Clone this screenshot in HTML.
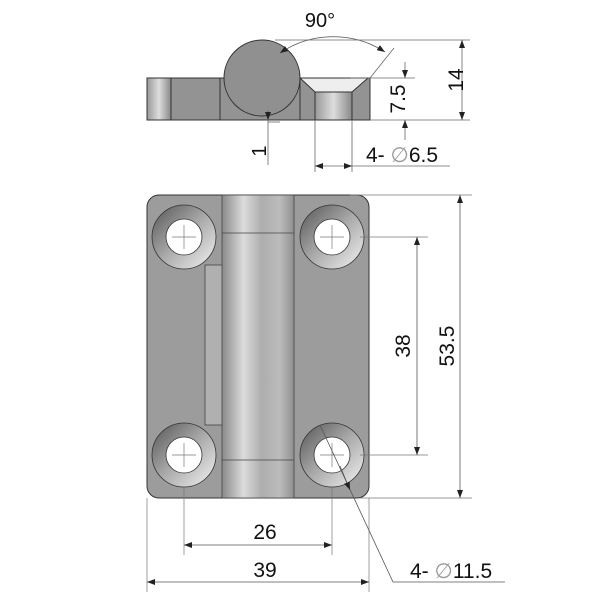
<!DOCTYPE html>
<html><head><style>
html,body{margin:0;padding:0;background:#fff;}
svg{display:block;}
text{font-family:"Liberation Sans",sans-serif;fill:#111;}
</style></head><body>
<svg width="600" height="600" viewBox="0 0 600 600" xmlns="http://www.w3.org/2000/svg">
<defs>
<linearGradient id="bar" x1="0" x2="1" y1="0" y2="0">
<stop offset="0" stop-color="#8a8a8a"/><stop offset="0.3" stop-color="#dcdcdc"/><stop offset="0.55" stop-color="#adadad"/><stop offset="0.8" stop-color="#bcbcbc"/><stop offset="1" stop-color="#909090"/>
</linearGradient>
<linearGradient id="cs" x1="0" y1="0" x2="1" y2="1">
<stop offset="0" stop-color="#555"/><stop offset="0.5" stop-color="#aaa"/><stop offset="1" stop-color="#f4f4f4"/>
</linearGradient>
<linearGradient id="tab" x1="0" x2="1"><stop offset="0" stop-color="#999"/><stop offset="0.5" stop-color="#ddd"/><stop offset="1" stop-color="#888"/></linearGradient>
<marker id="a" markerWidth="8" markerHeight="6" refX="8" refY="3" orient="auto-start-reverse" markerUnits="userSpaceOnUse"><path d="M0,0 L8,3 L0,6z" fill="#222"/></marker>
</defs>

<g stroke="#333" stroke-width="1">
<rect x="147" y="78" width="73" height="42" fill="#939393"/>
<rect x="147" y="78" width="24" height="42" fill="url(#tab)"/>
<path d="M220,78 L300,78 L300,120 L220,120z" fill="#939393"/>
<path d="M300,78 L370,78 L370,120 L300,120z" fill="#939393"/>
<path d="M300,78 L368,78 L352,92 L315,92z" fill="#eee"/>
<rect x="315" y="92" width="37" height="28" fill="url(#tab)"/>
<circle cx="262" cy="78" r="38" fill="#909090"/>
</g>
<g stroke="#666" stroke-width="0.8" fill="none">
<line x1="275" y1="40" x2="470" y2="40"/>
<line x1="350" y1="78" x2="415" y2="78"/>
<line x1="370" y1="120" x2="470" y2="120"/>
<line x1="462" y1="40" x2="462" y2="120" marker-start="url(#a)" marker-end="url(#a)"/>
<line x1="405" y1="62" x2="405" y2="78" marker-end="url(#a)"/>
<line x1="405" y1="120" x2="405" y2="140" marker-start="url(#a)"/>
<line x1="315" y1="120" x2="315" y2="172"/>
<line x1="352" y1="120" x2="352" y2="172"/>
<line x1="315" y1="166" x2="352" y2="166" marker-start="url(#a)" marker-end="url(#a)"/>
<line x1="352" y1="166" x2="450" y2="166"/>
<line x1="268" y1="110" x2="268" y2="120" marker-end="url(#a)"/>
<line x1="268" y1="120" x2="268" y2="165"/>
<path d="M280,53 A95,95 0 0 1 385,52" marker-start="url(#a)" marker-end="url(#a)"/>
<line x1="370" y1="78" x2="394" y2="48"/>
<line x1="268" y1="122" x2="280" y2="122"/>
</g>
<text x="320" y="27" font-size="20" text-anchor="middle">90°</text>
<text font-size="21" transform="translate(463,80) rotate(-90)" text-anchor="middle">14</text>
<text font-size="21" transform="translate(405,99) rotate(-90)" text-anchor="middle">7.5</text>
<text font-size="20" transform="translate(266,151) rotate(-90)" text-anchor="middle">1</text>
<text x="366" y="162" font-size="21">4- <tspan fill="#999">∅</tspan>6.5</text>

<rect x="147" y="195" width="222" height="303" rx="12" fill="#9c9c9c" stroke="#333"/>
<rect x="205" y="265" width="20" height="160" fill="#b0b0b0" stroke="#444" stroke-width="0.8"/>
<rect x="222" y="195" width="72" height="303" fill="url(#bar)" stroke="#444" stroke-width="0.8"/>
<line x1="222" y1="233" x2="294" y2="233" stroke="#444" stroke-width="0.8"/>
<line x1="222" y1="460" x2="294" y2="460" stroke="#444" stroke-width="0.8"/>
<g stroke="#333" stroke-width="0.8">
<circle cx="184" cy="237" r="32" fill="url(#cs)"/><circle cx="184" cy="237" r="18" fill="#fff"/>
<circle cx="332" cy="237" r="32" fill="url(#cs)"/><circle cx="332" cy="237" r="18" fill="#fff"/>
<circle cx="184" cy="455" r="32" fill="url(#cs)"/><circle cx="184" cy="455" r="18" fill="#fff"/>
<circle cx="332" cy="455" r="32" fill="url(#cs)"/><circle cx="332" cy="455" r="18" fill="#fff"/>
</g>
<g stroke="#777" stroke-width="0.7" fill="none">
<line x1="172" y1="237" x2="196" y2="237"/><line x1="184" y1="225" x2="184" y2="249"/>
<line x1="320" y1="237" x2="344" y2="237"/><line x1="332" y1="225" x2="332" y2="249"/>
<line x1="172" y1="455" x2="196" y2="455"/><line x1="184" y1="443" x2="184" y2="467"/>
<line x1="320" y1="455" x2="344" y2="455"/><line x1="332" y1="443" x2="332" y2="467"/>
<line x1="350" y1="195" x2="472" y2="195"/>
<line x1="360" y1="498" x2="472" y2="498"/>
<line x1="360" y1="237" x2="428" y2="237"/>
<line x1="360" y1="455" x2="428" y2="455"/>
<line x1="184" y1="488" x2="184" y2="555"/>
<line x1="332" y1="488" x2="332" y2="555"/>
<line x1="147" y1="498" x2="147" y2="592"/>
<line x1="369" y1="498" x2="369" y2="592"/>
</g>
<g stroke="#555" stroke-width="0.8" fill="none">
<line x1="460" y1="195" x2="460" y2="498" marker-start="url(#a)" marker-end="url(#a)"/>
<line x1="417" y1="237" x2="417" y2="455" marker-start="url(#a)" marker-end="url(#a)"/>
<line x1="184" y1="545" x2="332" y2="545" marker-start="url(#a)" marker-end="url(#a)"/>
<line x1="147" y1="582" x2="369" y2="582" marker-start="url(#a)" marker-end="url(#a)"/>
<path d="M320,425 L393,582 L505,582"/>
<line x1="340" y1="466" x2="350" y2="490" marker-end="url(#a)"/>
</g>
<text font-size="21" transform="translate(410,346) rotate(-90)" text-anchor="middle">38</text>
<text font-size="21" transform="translate(454,346) rotate(-90)" text-anchor="middle">53.5</text>
<text x="265" y="539" font-size="21" text-anchor="middle">26</text>
<text x="265" y="577" font-size="21" text-anchor="middle">39</text>
<text x="410" y="578" font-size="21">4- <tspan fill="#999">∅</tspan>11.5</text>
</svg>
</body></html>
